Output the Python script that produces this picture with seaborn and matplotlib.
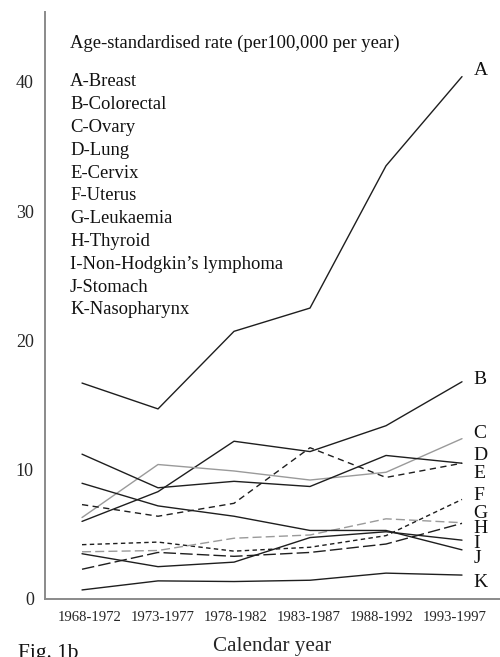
import numpy as np
import pandas as pd
import matplotlib
matplotlib.use("Agg")
import matplotlib.pyplot as plt
import seaborn as sns

"""Age-standardised incidence rates, females, 1968-1997 (Fig. 1b)"""

periods = ['1968-1972', '1973-1977', '1978-1982', '1983-1987', '1988-1992', '1993-1997']
letters = ['A', 'B', 'C', 'D', 'E', 'F', 'G', 'H', 'I', 'J', 'K']
sites = ['Breast', 'Colorectal', 'Ovary', 'Lung', 'Cervix', 'Uterus', 'Leukaemia',
         'Thyroid', 'Non-Hodgkin\u2019s lymphoma', 'Stomach', 'Nasopharynx']

breast = [16.7, 14.7, 20.7, 22.5, 33.5, 40.4]
colorectal = [6.0, 8.3, 12.2, 11.4, 13.4, 16.8]
ovary = [6.3, 10.4, 9.9, 9.2, 9.8, 12.4]
lung = [11.2, 8.6, 9.1, 8.7, 11.1, 10.5]
cervix = [7.3, 6.4, 7.4, 11.7, 9.4, 10.5]
uterus = [4.2, 4.4, 3.7, 4.0, 4.9, 7.7]
leukaemia = [3.65, 3.75, 4.7, 4.95, 6.2, 5.9]
thyroid = [2.3, 3.6, 3.3, 3.6, 4.25, 5.85]
nhl = [3.5, 2.5, 2.85, 4.75, 5.2, 4.55]
stomach = [8.95, 7.2, 6.4, 5.3, 5.3, 3.8]
nasopharynx = [0.7, 1.4, 1.35, 1.45, 2.0, 1.85]

series = [breast, colorectal, ovary, lung, cervix, uterus, leukaemia,
          thyroid, nhl, stomach, nasopharynx]

# estilo de cada curva: (color, guiones en puntos o None para continua)
dark = '#1e1e1e'
grey = '#9a9a9a'
styles = {
    'A': (dark, None), 'B': (dark, None), 'C': (grey, None), 'D': (dark, None),
    'E': (dark, (4.5, 3.2)), 'F': (dark, (3.2, 2.4)), 'G': (grey, (6.5, 3.0)),
    'H': (dark, (9.0, 3.0)), 'I': (dark, None), 'J': (dark, None), 'K': (dark, None),
}

df = pd.DataFrame({
    'period': periods * len(letters),
    'pos': list(range(len(periods))) * len(letters),
    'rate': np.concatenate(series),
    'site': np.repeat(letters, len(periods)),
})

sns.set_style('white')
plt.rcParams['font.family'] = ['Liberation Serif', 'DejaVu Serif']

fig = plt.figure(figsize=(5.0, 6.57), dpi=100)
ax = fig.add_axes([0.09, 0.0883, 0.91, 0.8935])

for letter in letters:
    color, dash = styles[letter]
    sub = df[df['site'] == letter]
    sns.lineplot(data=sub, x='pos', y='rate', ax=ax, color=color,
                 linewidth=1.0, legend=False)
    if dash is not None:
        ax.lines[-1].set_dashes(dash)

ax.set_xlim(-0.487, 5.5)
ax.set_ylim(0, 45.4)
ax.set_yticks([0, 10, 20, 30, 40])
ax.set_xticks(np.arange(len(periods)) * 0.96 + 0.1)
ax.set_xticklabels(periods, fontsize=10.6)
ax.tick_params(axis='y', labelsize=13, length=0, pad=8)
ax.tick_params(axis='x', length=0, pad=9)
ax.set_xlabel('Calendar year', fontsize=15.2, labelpad=9)
ax.set_ylabel('')

for side in ['top', 'right']:
    ax.spines[side].set_visible(False)
for side in ['left', 'bottom']:
    ax.spines[side].set_color('#8a8a8a')
    ax.spines[side].set_linewidth(1.4)

# etiquetas de las curvas a la derecha (posición del texto en unidades de datos)
label_y = [40.9, 17.0, 12.8, 11.1, 9.7, 8.0, 6.65, 5.45, 4.3, 3.1, 1.3]
for letter, y in zip(letters, label_y):
    ax.text(5.15, y, letter, fontsize=14, va='center', ha='left', color='#111111')

# leyenda en texto
W, H = 500, 657
fig.text(70 / W, 1 - 43 / H, 'Age-standardised rate (per100,000 per year)',
         fontsize=13.4, va='center', ha='left', color='#111111')
for i, (letter, site) in enumerate(zip(letters, sites)):
    fig.text(70 / W, 1 - (82 + 22.8 * i) / H, f'{letter}-{site}',
             fontsize=13.4, va='center', ha='left', color='#111111')

fig.text(18 / W, 1 - 644 / H, 'Fig. 1b', fontsize=15.5, va='top', ha='left', color='#111111')

fig.savefig('out.png', dpi=100)
